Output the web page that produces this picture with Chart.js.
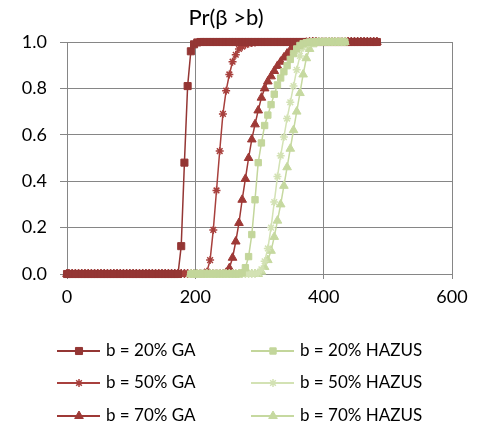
<!DOCTYPE html>
<html>
<head>
<meta charset="utf-8">
<script src="https://cdn.jsdelivr.net/npm/chart.js@4"></script>
<style>
  html, body { margin: 0; padding: 0; background: #fff; }
</style>
</head>
<body>
<canvas id="myChart" width="486" height="428"></canvas>
<script>
// SETUP - values

// x values (GA series run from 0 up to ~483, HAZUS series from ~193 to ~433)
const gaX = [0,
  3,8,13,18,23,28,33,38,43,48,
  53,58,63,68,73,78,83,88,93,98,
  103,108,113,118,123,128,133,138,143,148,
  153,158,163,168,173,178,183,188,193,198,
  203,208,213,218,223,228,233,238,243,248,
  253,258,263,268,273,278,283,288,293,298,
  303,308,313,318,323,328,333,338,343,348,
  353,358,363,368,373,378,383,388,393,398,
  403,408,413,418,423,428,433,438,443,448,
  453,458,463,468,473,478,483];
const hazusX = [
  193,198,203,208,213,218,223,228,233,238,
  243,248,253,258,263,268,273,278,283,288,
  293,298,303,308,313,318,323,328,333,338,
  343,348,353,358,363,368,373,378,383,388,
  393,398,403,408,413,418,423,428,433];

const ga20 = [
  0,0,0,0,0,0,0,0,0,0,
  0,0,0,0,0,0,0,0,0,0,
  0,0,0,0,0,0,0,0,0,0,
  0,0,0,0,0,0,
  0.12,0.48,0.81,0.96,0.99,0.998,
  1,1,1,1,1,1,1,1,1,1,
  1,1,1,1,1,1,1,1,1,1,
  1,1,1,1,1,1,1,1,1,1,
  1,1,1,1,1,1,1,1,1,1,
  1,1,1,1,1,1,1,1,1,1,
  1,1,1,1,1,1];
const ga50 = [
  0,0,0,0,0,0,0,0,0,0,
  0,0,0,0,0,0,0,0,0,0,
  0,0,0,0,0,0,0,0,0,0,
  0,0,0,0,0,0,0,0,0,0,
  0,0,0,0,
  0.01,0.06,0.19,0.36,0.53,0.69,0.79,0.86,0.915,0.945,0.97,0.98,0.988,0.993,0.996,0.998,
  1,1,1,1,1,1,1,1,1,1,
  1,1,1,1,1,1,1,1,1,1,
  1,1,1,1,1,1,1,1,1,1,
  1,1,1,1,1,1,1,1];
const ga70 = [
  0,0,0,0,0,0,0,0,0,0,
  0,0,0,0,0,0,0,0,0,0,
  0,0,0,0,0,0,0,0,0,0,
  0,0,0,0,0,0,0,0,0,0,
  0,0,0,0,0,0,0,0,0,0,
  0.005,0.025,0.07,0.14,0.22,0.32,0.41,0.50,0.58,0.645,0.705,0.76,0.80,0.83,
  0.852,0.875,0.897,0.915,0.933,0.95,0.965,0.976,0.984,0.99,0.995,0.997,0.999,
  1,1,1,1,1,1,1,1,1,1,
  1,1,1,1,1,1,1,1,1,1,
  1];
const hazus20 = [
  0,0,0,0,0,0,0,0,0,0,
  0,0,0,0,0,0,
  0.005,0.027,0.075,0.17,0.32,0.48,0.565,0.64,0.685,0.73,0.775,
  0.815,0.845,0.872,0.898,0.925,0.95,0.97,0.985,0.993,0.997,
  1,1,1,1,1,1,1,1,1,1,
  1,1];
const hazus50 = [
  0,0,0,0,0,0,0,0,0,0,
  0,0,0,0,0,0,0,0,0,0,
  0,
  0.005,0.02,0.055,0.11,0.2,0.31,0.42,0.51,0.59,0.67,0.74,0.81,0.88,0.94,0.975,0.99,0.997,
  1,1,1,1,1,1,1,1,1,1,
  1];
const hazus70 = [
  0,0,0,0,0,0,0,0,0,0,
  0,0,0,0,0,0,0,0,0,0,
  0,0,
  0.01,0.03,0.06,0.1,0.16,0.23,0.3,0.38,0.46,0.54,0.62,0.7,0.78,0.86,0.93,0.97,0.99,0.997,
  1,1,1,1,1,1,1,1,1];

const xTicks = [0, 200, 400, 600];
const yTicks = [0, 0.2, 0.4, 0.6, 0.8, 1.0];
const seriesNames = ['b = 20% GA', 'b = 50% GA', 'b = 70% GA',
                     'b = 20% HAZUS', 'b = 50% HAZUS', 'b = 70% HAZUS'];
// END OF SETUP //

const FONT = 'Lato, "Open Sans", sans-serif';
const GRID = '#868686';

function pts(xs, ys) {
  return xs.map((x, i) => ({ x: x, y: ys[i] }));
}

function series(label, xs, ys, color, style, radius, order) {
  return {
    label: label,
    data: pts(xs, ys),
    borderColor: color,
    backgroundColor: color,
    borderWidth: 1.5,
    pointStyle: style,
    pointRadius: radius,
    pointBackgroundColor: color,
    pointBorderColor: color,
    pointBorderWidth: style === 'star' ? 1.5 : 1,
    tension: 0,
    clip: false,
    order: order
  };
}

// HAZUS drawn on top (lower order = on top)
const datasets = [
  series(seriesNames[0], gaX, ga20, '#943634', 'rect', 5, 2),
  series(seriesNames[1], gaX, ga50, '#A8403D', 'star', 4, 2),
  series(seriesNames[2], gaX, ga70, '#9E3936', 'triangle', 5, 2),
  series(seriesNames[3], hazusX, hazus20, '#C3D69B', 'rect', 4.5, 1),
  series(seriesNames[4], hazusX, hazus50, '#D3E2B4', 'star', 4, 1),
  series(seriesNames[5], hazusX, hazus70, '#C6D9A0', 'triangle', 5, 1)
];

// title + 2 column legend drawn by hand (Excel style layout)
const titleAndLegend = {
  id: 'titleAndLegend',
  afterDraw(chart) {
    const ctx = chart.ctx;
    ctx.save();
    ctx.fillStyle = '#000';
    ctx.textBaseline = 'middle';
    ctx.textAlign = 'center';
    ctx.font = '22px ' + FONT;
    ctx.fillText('Pr(β >b)', 226, 18);

    const colX = [57, 251];
    const rowY = [351, 383, 416];
    ctx.font = '17px ' + FONT;
    ctx.textAlign = 'left';
    chart.data.datasets.forEach((ds, i) => {
      const x = colX[i < 3 ? 0 : 1];
      const y = rowY[i % 3];
      ctx.strokeStyle = ds.borderColor;
      ctx.lineWidth = 2;
      ctx.beginPath();
      ctx.moveTo(x, y);
      ctx.lineTo(x + 43, y);
      ctx.stroke();
      ctx.fillStyle = ds.pointBackgroundColor;
      ctx.strokeStyle = ds.pointBorderColor;
      ctx.lineWidth = ds.pointBorderWidth;
      Chart.helpers.drawPoint(ctx, {
        pointStyle: ds.pointStyle, radius: ds.pointRadius, rotation: 0, borderWidth: ds.pointBorderWidth
      }, x + 22, y);
      ctx.fillStyle = '#000';
      ctx.fillText(ds.label, x + 49, y);
    });
    ctx.restore();
  }
};

const config = {
  type: 'line',
  data: { datasets: datasets },
  options: {
    responsive: false,
    animation: false,
    events: [],
    layout: { padding: { left: 0, right: 34, top: 42, bottom: 114 } },
    plugins: { legend: { display: false }, tooltip: { enabled: false }, title: { display: false } },
    scales: {
      x: {
        type: 'linear',
        min: 0, max: 600,
        afterBuildTicks: (s) => { s.ticks = xTicks.map(v => ({ value: v })); },
        afterFit: (s) => { s.height = 40; },
        ticks: { color: '#000', font: { family: FONT, size: 18 }, padding: 7, maxRotation: 0 },
        grid: { color: GRID, lineWidth: 1, tickLength: 5 },
        border: { color: GRID, width: 1 }
      },
      y: {
        min: 0, max: 1,
        afterBuildTicks: (s) => { s.ticks = yTicks.map(v => ({ value: v })); },
        afterFit: (s) => { s.width = 67; },
        ticks: { color: '#000', font: { family: FONT, size: 18 }, padding: 13,
                 callback: (v) => Number(v).toFixed(1) },
        grid: { color: GRID, lineWidth: 1, tickLength: 7 },
        border: { color: GRID, width: 1 }
      }
    }
  },
  plugins: [titleAndLegend]
};

var myChart = new Chart(document.getElementById('myChart'), config);
</script>
</body>
</html>
